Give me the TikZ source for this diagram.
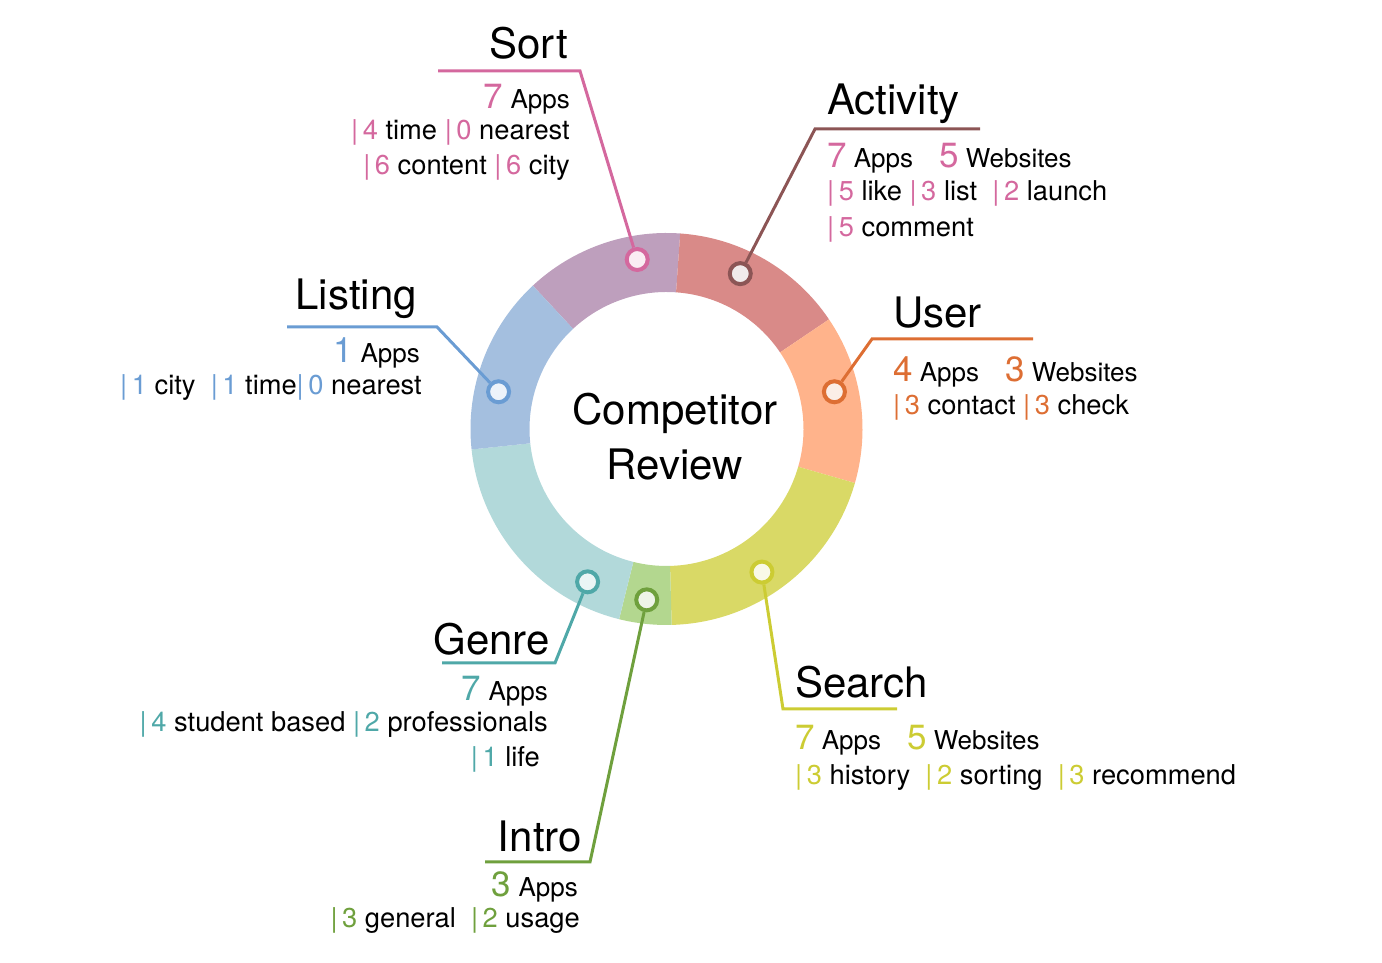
\documentclass[tikz,border=0pt]{standalone}
\usepackage{fontspec}
\setmainfont{TeX Gyre Heros}
\usepackage{tikz}
\usetikzlibrary{positioning}

% Cores dos setores e das linhas
\definecolor{sortseg}{HTML}{BE9FBD}
\definecolor{sortln}{HTML}{D4689E}
\definecolor{actseg}{HTML}{D98A88}
\definecolor{actln}{HTML}{8C5555}
\definecolor{userseg}{HTML}{FFB38B}
\definecolor{userln}{HTML}{DD6E33}
\definecolor{srchseg}{HTML}{D9D966}
\definecolor{srchln}{HTML}{CCCC33}
\definecolor{introseg}{HTML}{B3D78F}
\definecolor{introln}{HTML}{6FA03D}
\definecolor{genreseg}{HTML}{B2D9DA}
\definecolor{genreln}{HTML}{4FA8A8}
\definecolor{listseg}{HTML}{A4BFDF}
\definecolor{listln}{HTML}{6A9CD3}

% Numero grande e item com barra
\newcommand{\qtd}[2]{{\color{#1}\fontsize{35}{35}\selectfont #2}}
\newcommand{\barra}[2]{{\color{#1}|\,#2}}

\begin{document}
\begin{tikzpicture}[x=1pt, y=1pt,
    marca/.style={circle, draw=#1, fill=#1!12, line width=4pt, minimum size=21pt, inner sep=0pt},
    guia/.style={draw=#1, line width=3pt},
    titulo/.style={font=\fontsize{42}{42}\selectfont, inner sep=0pt},
    conta/.style={font=\fontsize{26}{26}\selectfont, inner sep=0pt},
    linha/.style={font=\fontsize{27.3}{27.3}\selectfont, inner sep=0pt}]
        % Variáveis base
        \def\Rout{196}  % Raio externo do anel
        \def\Rin{137}   % Raio interno do anel
        \def\Rm{172}    % Raio das marcas

        \useasboundingbox (0,0) rectangle (1382,963);

        % Centro do anel
        \coordinate (C) at (666.5,534);

        \begin{scope}[shift={(C)}]
            % Setores do anel
            \foreach \a/\b/\cor in {86/133/sortseg, 34/86/actseg, -16/34/userseg, -88.5/-16/srchseg,
                                    -104/-88.5/introseg, 186/256/genreseg, 133/186/listseg}
                \fill[\cor] (\a:\Rout) arc (\a:\b:\Rout) -- (\b:\Rin) arc (\b:\a:\Rin) -- cycle;

            % Marcas sobre o anel
            \node[marca=sortln]  (msort)  at (99.8:\Rm) {};
            \node[marca=actln]   (mact)   at (64.6:\Rm) {};
            \node[marca=userln]  (muser)  at (12.5:\Rm) {};
            \node[marca=srchln]  (msrch)  at (-56.3:\Rm) {};
            \node[marca=introln] (mintro) at (-96.6:\Rm) {};
            \node[marca=genreln] (mgenre) at (-117.3:\Rm) {};
            \node[marca=listln]  (mlist)  at (167.5:\Rm) {};
        \end{scope}

        % Texto central
        \node[font=\fontsize{42}{55}\selectfont, align=center, inner sep=0pt] (centro) at (675,526) {Competitor\\Review};

        % Pontos de dobra e fim das linhas
        \coordinate (ksort)  at (580,892);  \coordinate (esort)  at (438,892);
        \coordinate (kact)   at (815,834);  \coordinate (eact)   at (980,834);
        \coordinate (kuser)  at (872,624);  \coordinate (euser)  at (1033,624);
        \coordinate (ksrch)  at (783,254);  \coordinate (esrch)  at (897,254);
        \coordinate (kintro) at (590,101);  \coordinate (eintro) at (485,101);
        \coordinate (kgenre) at (555,300);  \coordinate (egenre) at (442,300);
        \coordinate (klist)  at (437,636);  \coordinate (elist)  at (287,636);

        % Linhas guia
        \draw[guia=sortln]  (msort)  -- (ksort)  -- (esort);
        \draw[guia=actln]   (mact)   -- (kact)   -- (eact);
        \draw[guia=userln]  (muser)  -- (kuser)  -- (euser);
        \draw[guia=srchln]  (msrch)  -- (ksrch)  -- (esrch);
        \draw[guia=introln] (mintro) -- (kintro) -- (eintro);
        \draw[guia=genreln] (mgenre) -- (kgenre) -- (egenre);
        \draw[guia=listln]  (mlist)  -- (klist)  -- (elist);

        % Sort
        \node[titulo, anchor=base east] (tsort) at (568,904) {Sort};
        \node[conta, anchor=base east] (sort1) at (570,854) {\qtd{sortln}{7} Apps};
        \node[linha, anchor=base east] (sort2) at (570,823) {\barra{sortln}{4} time \barra{sortln}{0} nearest};
        \node[linha, anchor=base east] (sort3) at (570,788) {\barra{sortln}{6} content \barra{sortln}{6} city};

        % Activity
        \node[titulo, anchor=base west] (tact) at (827,848) {Activity};
        \node[conta, anchor=base west] (act1) at (827,795) {\qtd{sortln}{7} Apps\quad\qtd{sortln}{5} Websites};
        \node[linha, anchor=base west] (act2) at (827,762) {\barra{sortln}{5} like \barra{sortln}{3} list\ \ \barra{sortln}{2} launch};
        \node[linha, anchor=base west] (act3) at (827,726) {\barra{sortln}{5} comment};

        % User
        \node[titulo, anchor=base west] (tuser) at (893,635) {User};
        \node[conta, anchor=base west] (user1) at (893,581) {\qtd{userln}{4} Apps\quad\qtd{userln}{3} Websites};
        \node[linha, anchor=base west] (user2) at (893,548) {\barra{userln}{3} contact \barra{userln}{3} check};

        % Search
        \node[titulo, anchor=base west] (tsrch) at (795,265) {Search};
        \node[conta, anchor=base west] (srch1) at (795,213) {\qtd{srchln}{7} Apps\quad\qtd{srchln}{5} Websites};
        \node[linha, anchor=base west] (srch2) at (795,178) {\barra{srchln}{3} history\ \ \barra{srchln}{2} sorting\ \ \barra{srchln}{3} recommend};

        % Intro
        \node[titulo, anchor=base east] (tintro) at (582,111) {Intro};
        \node[conta, anchor=base east] (intro1) at (578,66) {\qtd{introln}{3} Apps};
        \node[linha, anchor=base east] (intro2) at (580,35) {\barra{introln}{3} general\ \ \barra{introln}{2} usage};

        % Genre
        \node[titulo, anchor=base east] (tgenre) at (550,308) {Genre};
        \node[conta, anchor=base east] (genre1) at (548,262) {\qtd{genreln}{7} Apps};
        \node[linha, anchor=base east] (genre2) at (548,231) {\barra{genreln}{4} student based \barra{genreln}{2} professionals};
        \node[linha, anchor=base east] (genre3) at (540,196) {\barra{genreln}{1} life};

        % Listing
        \node[titulo, anchor=base east] (tlist) at (417,653) {Listing};
        \node[conta, anchor=base east] (list1) at (420,600) {\qtd{listln}{1} Apps};
        \node[linha, anchor=base east] (list2) at (422,568) {\barra{listln}{1} city\ \ \barra{listln}{1} time\barra{listln}{0} nearest};

    \end{tikzpicture}
\end{document}
